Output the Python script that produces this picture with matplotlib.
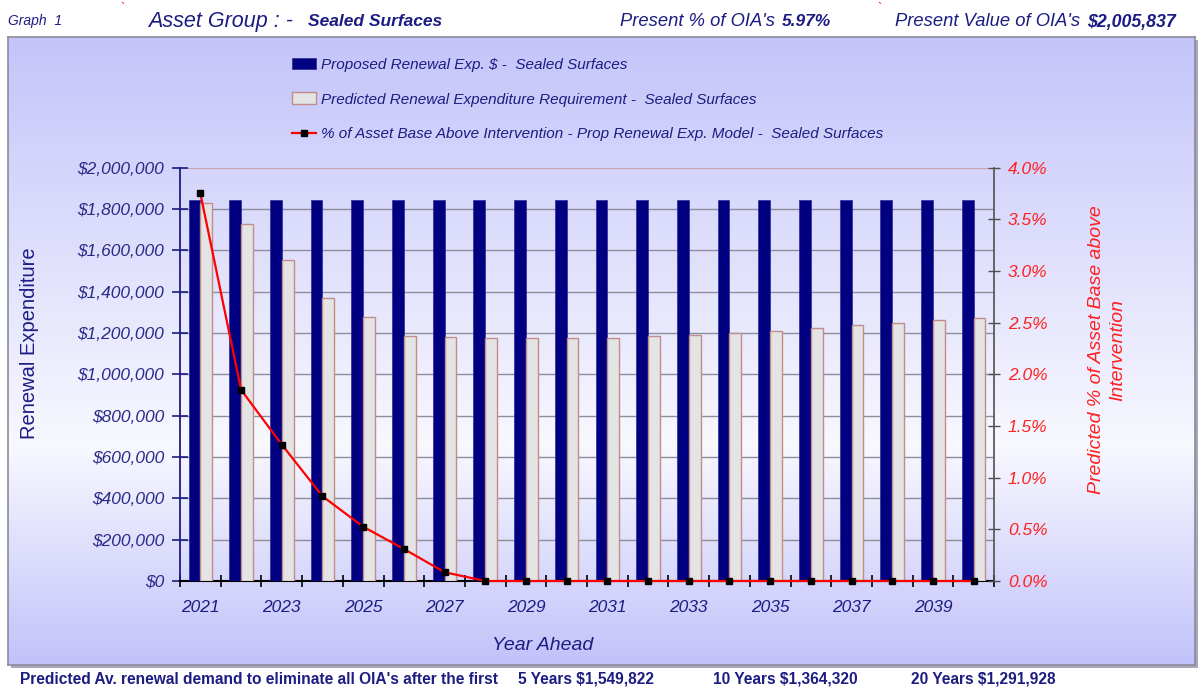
import matplotlib
matplotlib.use("Agg")
import matplotlib.pyplot as plt
import numpy as np
from matplotlib.patches import Rectangle

years = list(range(2021, 2041))
proposed = [1845000] * 20
predicted = [1826000, 1728000, 1552000, 1368000, 1275000,
             1183000, 1182000, 1177000, 1176000, 1176000,
             1177000, 1183000, 1189000, 1200000, 1211000,
             1223000, 1237000, 1249000, 1261000, 1272000]
pct_above = [3.75, 1.85, 1.32, 0.82, 0.525, 0.31, 0.085, 0, 0, 0,
             0, 0, 0, 0, 0, 0, 0, 0, 0, 0]
left_ticks = list(range(0, 2000001, 200000))
right_ticks = [0, 0.5, 1.0, 1.5, 2.0, 2.5, 3.0, 3.5, 4.0]

NAVY = "#1c1c82"
RED = "#ff2020"
plt.rcParams['font.family'] = ['Liberation Sans', 'DejaVu Sans']

W, H = 1203, 687
fig = plt.figure(figsize=(W / 100, H / 100), dpi=100)
fig.patch.set_facecolor("white")

def fx(x):
    return x / W

def fy(y):
    return 1 - y / H

# panel with shadow and vertical gradient
px0, py0, px1, py1 = 8, 37, 1195, 665
shadow = Rectangle((fx(px0 + 3), fy(py1 + 3)), fx(px1 - px0), (py1 - py0) / H,
                   transform=fig.transFigure, facecolor="#a8a8bc", edgecolor="none", zorder=-5)
fig.patches.append(shadow)
bg = fig.add_axes([fx(px0), fy(py1), fx(px1 - px0), (py1 - py0) / H])
bg.set_zorder(0.5)
t = np.linspace(0, 1, 400)
peak = 0.65
top_c = np.array([196, 196, 250]) / 255
mid_c = np.array([248, 248, 255]) / 255
bot_c = np.array([194, 194, 250]) / 255
cols = np.zeros((400, 1, 3))
for i, v in enumerate(t):
    if v < peak:
        f = v / peak
        cols[i, 0] = top_c + (mid_c - top_c) * f
    else:
        f = (v - peak) / (1 - peak)
        cols[i, 0] = mid_c + (bot_c - mid_c) * f
bg.imshow(cols, aspect="auto", extent=[0, 1, 1, 0], interpolation="bilinear")
bg.set_xlim(0, 1)
bg.set_ylim(1, 0)
bg.set_xticks([])
bg.set_yticks([])
for s in bg.spines.values():
    s.set_color("#8a8a9a")
    s.set_linewidth(1.2)

# main axes
ax_l, ax_r, ax_t, ax_b = 180, 994, 167.5, 581
ax = fig.add_axes([fx(ax_l), fy(ax_b), fx(ax_r - ax_l), (ax_b - ax_t) / H])
ax.set_zorder(2)
ax.patch.set_alpha(0)
x = np.arange(len(years))
bw = 0.29
b1 = ax.bar(x - 0.145, proposed, width=bw, color="#000080", edgecolor="#2a2a9a",
            linewidth=0.5, zorder=3)
b2 = ax.bar(x + 0.145, predicted, width=bw, color="#e4e4e4", edgecolor="#c08c8c",
            linewidth=1.0, zorder=3)
ax.set_xlim(-0.5, len(years) - 0.5)
ax.set_ylim(0, 2000000)
ax.set_yticks(left_ticks)
ax.set_yticklabels(["${:,.0f}".format(v) for v in left_ticks], fontsize=12.5,
                   style="italic", color="#2a2a8a")
for v in left_ticks[1:-1]:
    ax.axhline(v, color="#8e8e98", linewidth=1.0, zorder=1)
ax.axhline(2000000, color="#c8a0b0", linewidth=1.5, zorder=1)
ax.set_xticks(np.arange(-0.5, len(years), 1.0))
ax.set_xticklabels([])
ax.set_xticks(x[::2], minor=True)
ax.set_xticklabels([str(y) for y in years[::2]], minor=True, fontsize=12.5,
                   style="italic", color=NAVY)
ax.tick_params(axis="x", which="minor", length=0, pad=14)
ax.tick_params(axis="x", which="major", direction="inout", length=9, width=1.2,
               color="black")
ax.tick_params(axis="y", direction="inout", length=11, width=1.2, color=NAVY, pad=6)
ax.spines["left"].set_color(NAVY)
ax.spines["left"].set_linewidth(1.3)
ax.spines["bottom"].set_color("black")
ax.spines["bottom"].set_linewidth(1.5)
ax.spines["top"].set_visible(False)
ax.spines["right"].set_visible(False)
fig.text(fx(30), fy(343), "Renewal Expenditure", rotation=90, ha="center", va="center",
         fontsize=14.5, color=NAVY, zorder=5)
fig.text(fx(543), fy(645), "Year Ahead", ha="center", va="center",
         fontsize=14, style="italic", color=NAVY, zorder=5)

ax2 = ax.twinx()
ax2.patch.set_alpha(0)
ax2.set_zorder(3)
ln, = ax2.plot(x, pct_above, color="#ff0000", linewidth=1.6, marker="s",
               markersize=4.5, markerfacecolor="black", markeredgecolor="black",
               zorder=5, clip_on=False)
ax2.set_ylim(0, 4)
ax2.set_yticks(right_ticks)
ax2.set_yticklabels(["{:.1f}%".format(v) for v in right_ticks], fontsize=12.5,
                    style="italic", color=RED)
ax2.tick_params(axis="y", direction="inout", length=8, width=1.0, color="#505050", pad=6)
for s in ["left", "top", "bottom"]:
    ax2.spines[s].set_visible(False)
ax2.spines["right"].set_color("#505050")
ax2.spines["right"].set_linewidth(1.2)
fig.text(fx(1107), fy(350), "Predicted % of Asset Base above\nIntervention",
         rotation=90, ha="center", va="center", fontsize=14, style="italic",
         color=RED, linespacing=1.3, zorder=5)

# legend
leg = fig.legend([b1, b2, ln],
                 ["Proposed Renewal Exp. $ -  Sealed Surfaces",
                  "Predicted Renewal Expenditure Requirement -  Sealed Surfaces",
                  "% of Asset Base Above Intervention - Prop Renewal Exp. Model -  Sealed Surfaces"],
                 loc="upper left", bbox_to_anchor=(fx(284), fy(50)), frameon=False,
                 prop={"size": 11, "style": "italic"}, labelspacing=1.35,
                 handlelength=1.6, handleheight=0.8, handletextpad=0.3, borderpad=0)
leg.set_zorder(6)
for txt in leg.get_texts():
    txt.set_color(NAVY)

# header
fig.text(fx(8), fy(21), "Graph  1", fontsize=10, style="italic", color=NAVY, va="center")
fig.text(fx(148), fy(21), "Asset Group : -", fontsize=15.5, style="italic", color=NAVY, va="center")
fig.text(fx(308), fy(22), "Sealed Surfaces", fontsize=12.5, style="italic", weight="bold",
         color=NAVY, va="center")
fig.text(fx(620), fy(21), "Present % of OIA's", fontsize=13.2, style="italic", color=NAVY, va="center")
fig.text(fx(782), fy(22), "5.97%", fontsize=12.5, style="italic", weight="bold", color=NAVY, va="center")
fig.text(fx(895), fy(21), "Present Value of OIA's", fontsize=13.2, style="italic", color=NAVY, va="center")
fig.text(fx(1087), fy(22), "$2,005,837", fontsize=12.8, style="italic", weight="bold", color=NAVY,
         va="center")
fig.text(fx(122), fy(9), "`", fontsize=9, color="red", ha="center", va="center")
fig.text(fx(879), fy(9), "`", fontsize=9, color="red", ha="center", va="center")

# footer
fsz = 11.2
fig.text(fx(20), fy(679), "Predicted Av. renewal demand to eliminate all OIA's after the first",
         fontsize=fsz, weight="bold", color=NAVY, va="center")
fig.text(fx(518), fy(679), "5 Years $1,549,822", fontsize=fsz, weight="bold", color=NAVY,
         va="center")
fig.text(fx(713), fy(679), "10 Years $1,364,320", fontsize=fsz, weight="bold", color=NAVY,
         va="center")
fig.text(fx(911), fy(679), "20 Years $1,291,928", fontsize=fsz, weight="bold", color=NAVY,
         va="center")

fig.savefig("out.png", dpi=100, facecolor="white")
